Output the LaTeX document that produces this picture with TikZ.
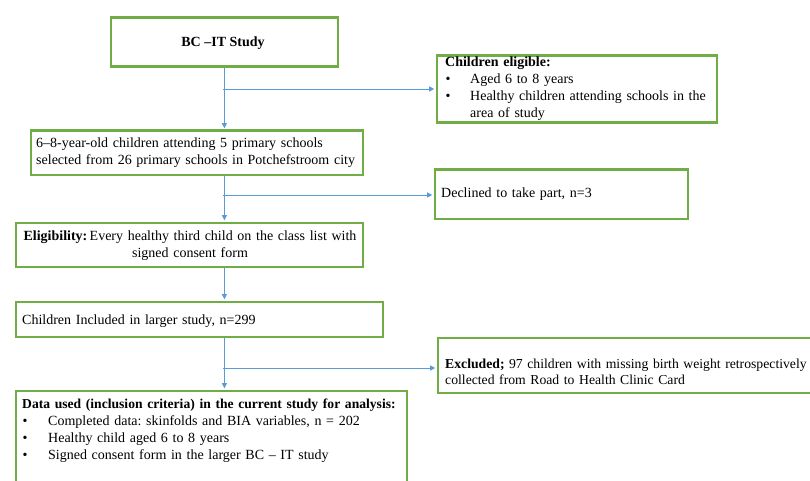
\documentclass[tikz,border=0pt]{standalone}
\usepackage{fontspec}
\setmainfont{Liberation Serif}
\usetikzlibrary{arrows.meta}
\definecolor{boxgreen}{HTML}{70AD47}
\definecolor{linkblue}{HTML}{5B9BD5}
\tikzset{
  flowbox/.style={draw=boxgreen, line width=2.8pt, inner sep=0pt, anchor=north west, fill=white},
  txt/.style={font=\fontsize{14}{17}\selectfont\frenchspacing, inner sep=0pt, align=left, anchor=base west},
  conn/.style={draw=linkblue, line width=0.8pt, shorten >=1.3pt, -{Triangle[length=5pt,width=5pt]}},
}
\newcommand{\bul}[1]{\makebox[#1][l]{\hspace*{0.5pt}•}}
\begin{document}
\begin{tikzpicture}[x=1pt,y=-1pt]
\clip (0,0) rectangle (810,481);
\fill[white] (0,0) rectangle (810,481);

% boxes
\node[flowbox, minimum width=227pt, minimum height=49pt] (bc) at (109.5,16.5) {};
\node[font=\fontsize{14}{17}\selectfont\bfseries, anchor=base, inner sep=0pt] (bct) at (223,47) {BC –IT Study};

\node[flowbox, minimum width=332pt, minimum height=44pt] (sel) at (29.5,129.5) {};
\node[txt, text width=322pt] (selt) at (36,148) {6–8-year-old children attending 5 primary schools\\selected from 26 primary schools in Potchefstroom city};

\node[flowbox, minimum width=280pt, minimum height=67pt] (ce) at (435.5,54.5) {};
\node[txt, text width=266pt] (cet) at (445,67) {\textbf{Children eligible:}\\\bul{25pt}Aged 6 to 8 years\\\bul{25pt}Healthy children attending schools in the\\\hspace*{25pt}area of study};

\node[flowbox, minimum width=253pt, minimum height=49pt] (decl) at (433.5,168.5) {};
\node[txt, text width=240pt] (declt) at (441,197) {Declined to take part, n=3};

\node[flowbox, minimum width=347pt, minimum height=44pt] (elg) at (14.5,221.5) {};
\node[txt, text width=340pt, align=center, anchor=base] (elgt) at (190,240) {\textbf{Eligibility:}\,Every healthy third child on the class list with\\signed consent form};

\node[flowbox, minimum width=367pt, minimum height=35pt] (incl) at (14.5,300.5) {};
\node[txt, text width=350pt] (inclt) at (22,324) {Children Included in larger study, n=299};

\node[flowbox, minimum width=400pt, minimum height=55pt] (excl) at (436.5,336.5) {};
\node[txt, font=\fontsize{13.7}{16}\selectfont\frenchspacing, text width=362pt] (exclt) at (445,368) {\textbf{Excluded;} 97 children with missing birth weight retrospectively\\collected from Road to Health Clinic Card};

\node[flowbox, minimum width=391pt, minimum height=120pt] (data) at (14.5,389.5) {};
\node[txt, text width=386pt] (datat) at (22,408) {{\fontsize{13.6}{17}\selectfont\textbf{Data used (inclusion criteria) in the current study for analysis:}}\\\bul{26pt}Completed data: skinfolds and BIA variables, n = 202\\\bul{26pt}Healthy child aged 6 to 8 years\\\bul{26pt}Signed consent form in the larger BC – IT study};

% connectors
\coordinate (j1) at (223,89);
\coordinate (j2) at (223,195);
\coordinate (j3) at (223,368);
\draw[conn] (bc.south) -- (bc.south |- sel.north);
\draw[conn] (j1) -- (j1 -| ce.west);
\draw[conn] (bc.south |- sel.south) -- (bc.south |- elg.north);
\draw[conn] (j2) -- (j2 -| decl.west);
\draw[conn] (bc.south |- elg.south) -- (bc.south |- incl.north);
\draw[conn] (bc.south |- incl.south) -- (bc.south |- data.north);
\draw[conn] (j3) -- (j3 -| excl.west);
\end{tikzpicture}
\end{document}
